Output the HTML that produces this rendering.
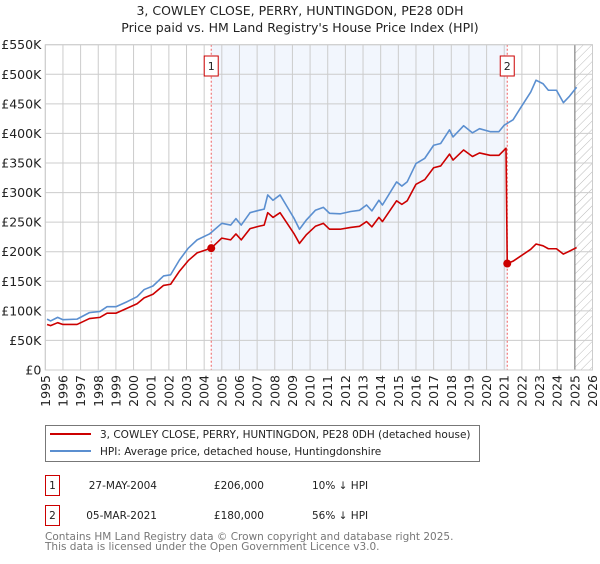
<!DOCTYPE html>
<html><head><meta charset="utf-8"><style>
body{margin:0;background:#fff;width:600px;height:560px;overflow:hidden;font-family:"DejaVu Sans","Liberation Sans",sans-serif}
svg text{font-family:"DejaVu Sans","Liberation Sans",sans-serif}
</style></head><body>
<svg id="chart" width="600" height="560" xmlns="http://www.w3.org/2000/svg">
<defs><pattern id="hatch" width="6" height="6" patternUnits="userSpaceOnUse" patternTransform="rotate(45)"><line x1="0" y1="0" x2="0" y2="6" stroke="#bbb" stroke-width="1"/></pattern></defs>
<text x="300" y="15" text-anchor="middle" font-size="12.5" fill="#222">3, COWLEY CLOSE, PERRY, HUNTINGDON, PE28 0DH</text>
<text x="300" y="32" text-anchor="middle" font-size="12.5" fill="#222">Price paid vs. HM Land Registry's House Price Index (HPI)</text>
<g id="plot"></g>
<g>
<rect x="45.5" y="425.5" width="434" height="36" fill="#fff" stroke="#777"/>
<line x1="50" y1="434" x2="91" y2="434" stroke="#cc0000" stroke-width="2"/>
<text x="100" y="438" font-size="10.5" fill="#222">3, COWLEY CLOSE, PERRY, HUNTINGDON, PE28 0DH (detached house)</text>
<line x1="50" y1="451" x2="91" y2="451" stroke="#5b8fd0" stroke-width="2"/>
<text x="100" y="455" font-size="10.5" fill="#222">HPI: Average price, detached house, Huntingdonshire</text>
</g>
<g font-size="10.5" fill="#222">
<rect x="45.5" y="475.5" width="14" height="20" fill="#fff" stroke="#cc0000"/>
<text x="52.5" y="489" text-anchor="middle">1</text>
<text x="157" y="489" text-anchor="end">27-MAY-2004</text>
<text x="264" y="489" text-anchor="end">£206,000</text>
<text x="312" y="489">10% ↓ HPI</text>
<rect x="45.5" y="505.5" width="14" height="20" fill="#fff" stroke="#cc0000"/>
<text x="52.5" y="519" text-anchor="middle">2</text>
<text x="157" y="519" text-anchor="end">05-MAR-2021</text>
<text x="264" y="519" text-anchor="end">£180,000</text>
<text x="312" y="519">56% ↓ HPI</text>
</g>
<text x="45" y="540" font-size="10.5" fill="#777">Contains HM Land Registry data © Crown copyright and database right 2025.</text>
<text x="45" y="550" font-size="10.5" fill="#777">This data is licensed under the Open Government Licence v3.0.</text>
</svg>
<script>
const hpiYears=[1995.1,1995.3,1995.7,1996,1996.8,1997.5,1998.1,1998.5,1999,1999.6,2000.2,2000.6,2001.1,2001.7,2002.1,2002.6,2003.1,2003.6,2004.3,2005,2005.5,2005.8,2006.1,2006.6,2007.1,2007.4,2007.6,2007.9,2008.3,2008.7,2009.1,2009.4,2009.8,2010.3,2010.75,2011.1,2011.7,2012.3,2012.8,2013.2,2013.5,2013.9,2014.1,2014.9,2015.2,2015.5,2016,2016.5,2017,2017.4,2017.9,2018.1,2018.7,2019.2,2019.6,2020.2,2020.7,2021.0,2021.5,2021.9,2022.5,2022.8,2023.2,2023.5,2023.96,2024.35,2024.7,2025.1];
const hpiValues=[86,83,89,85,86,97,99,107,107,115,124,136,142,159,161,186,206,220,230,248,245,256,245,266,270,272,296,287,296,276,256,238,254,270,275,265,264,268,270,279,269,287,279,318,311,318,349,358,380,383,406,394,413,401,408,403,403,414,423,442,470,490,484,473,473,452,463,478];
const priceYears=[1995.1,1995.3,1995.7,1996,1996.8,1997.5,1998.1,1998.5,1999,1999.6,2000.2,2000.6,2001.1,2001.7,2002.1,2002.6,2003.1,2003.6,2004.4,2005,2005.5,2005.8,2006.1,2006.6,2007.1,2007.4,2007.6,2007.9,2008.3,2008.7,2009.1,2009.4,2009.8,2010.3,2010.75,2011.1,2011.7,2012.3,2012.8,2013.2,2013.5,2013.9,2014.1,2014.9,2015.2,2015.5,2016,2016.5,2017,2017.4,2017.9,2018.1,2018.7,2019.2,2019.6,2020.2,2020.7,2021.1,2021.17,2021.5,2021.9,2022.5,2022.8,2023.2,2023.5,2023.96,2024.35,2024.7,2025.1];
const priceValues=[77,75,80,77,77,87,89,96,96,104,112,122,128,143,145,167,185,198,206,223,220,230,220,239,243,245,266,258,266,248,230,214,229,243,248,238,238,241,243,251,242,258,251,286,280,286,314,322,342,345,365,355,372,361,367,363,363,375,180,184,192,204,213,210,205,205,196,201,207];
const saleYears=[2004.4,2021.17];
const saleValues=[206,180];
const saleLabels=["1","2"];
const yTicks=[0,50,100,150,200,250,300,350,400,450,500,550];
const yTickLabels=["£0","£50K","£100K","£150K","£200K","£250K","£300K","£350K","£400K","£450K","£500K","£550K"];
const xTicks=[1995,1996,1997,1998,1999,2000,2001,2002,2003,2004,2005,2006,2007,2008,2009,2010,2011,2012,2013,2014,2015,2016,2017,2018,2019,2020,2021,2022,2023,2024,2025,2026];

const NS="http://www.w3.org/2000/svg";
const L=45.3,R=592.5,T=44.7,B=370,X0=1995,X1=2026,YMAX=550;
const x=v=>L+(v-X0)/(X1-X0)*(R-L);
const y=v=>B-v/YMAX*(B-T);
const g=document.getElementById('plot');
function mk(tag,attrs,parent){const e=document.createElementNS(NS,tag);for(const k in attrs)e.setAttribute(k,attrs[k]);(parent||g).appendChild(e);return e;}

let e=mk('rect',{x:x(saleYears[0]),y:T,width:x(saleYears[1])-x(saleYears[0]),height:B-T,fill:'#f2f6fd'});


e=mk('rect',{x:x(2025),y:T,width:R-x(2025),height:B-T,fill:'url(#hatch)'});



yTicks.forEach((t,i)=>{
 let l=mk('line',{x1:L,x2:R,y1:y(t),y2:y(t),stroke:'#ccc','stroke-width':1});
 
 
 let tx=mk('text',{x:L-4,y:y(t)+4.5,'text-anchor':'end','font-size':12.5,fill:'#222'});
 tx.textContent=yTickLabels[i];
 
 
});
xTicks.forEach(t=>{
 let l=mk('line',{x1:x(t),x2:x(t),y1:T,y2:B,stroke:'#ccc','stroke-width':1});
 
 
 let tx=mk('text',{x:0,y:0,'text-anchor':'end','font-size':12.5,fill:'#222',transform:`translate(${x(t)+4.5},${B+5}) rotate(-90)`});
 tx.textContent=t;
 
 
});
e=mk('line',{x1:x(2025),x2:x(2025),y1:T,y2:B,stroke:'#888','stroke-width':1.2});



saleYears.forEach((s,i)=>{
 let l=mk('line',{x1:x(s),x2:x(s),y1:T,y2:B,stroke:'#f06060','stroke-width':1,'stroke-dasharray':'2,2'});
 
 
 let r=mk('rect',{x:x(s)-7,y:56,width:14,height:20,fill:'#fff',stroke:'#cc0000'});
 
 
 let t=mk('text',{x:x(s),y:70,'text-anchor':'middle','font-size':11,fill:'#222'});
 t.textContent=saleLabels[i];
 
 
});

e=mk('rect',{x:L,y:T,width:R-L,height:B-T,fill:'none',stroke:'#ccc'});



let p=mk('polyline',{points:hpiYears.map((v,i)=>x(v)+','+y(hpiValues[i])).join(' '),fill:'none',stroke:'#5b8fd0','stroke-width':1.6,'stroke-linejoin':'round'});


p=mk('polyline',{points:priceYears.map((v,i)=>x(v)+','+y(priceValues[i])).join(' '),fill:'none',stroke:'#cc0000','stroke-width':1.6,'stroke-linejoin':'round'});


saleYears.forEach((s,i)=>{
 let c=mk('circle',{cx:x(s),cy:y(saleValues[i]),r:4,fill:'#cc0000'});
 
 
});
</script>
</body></html>
